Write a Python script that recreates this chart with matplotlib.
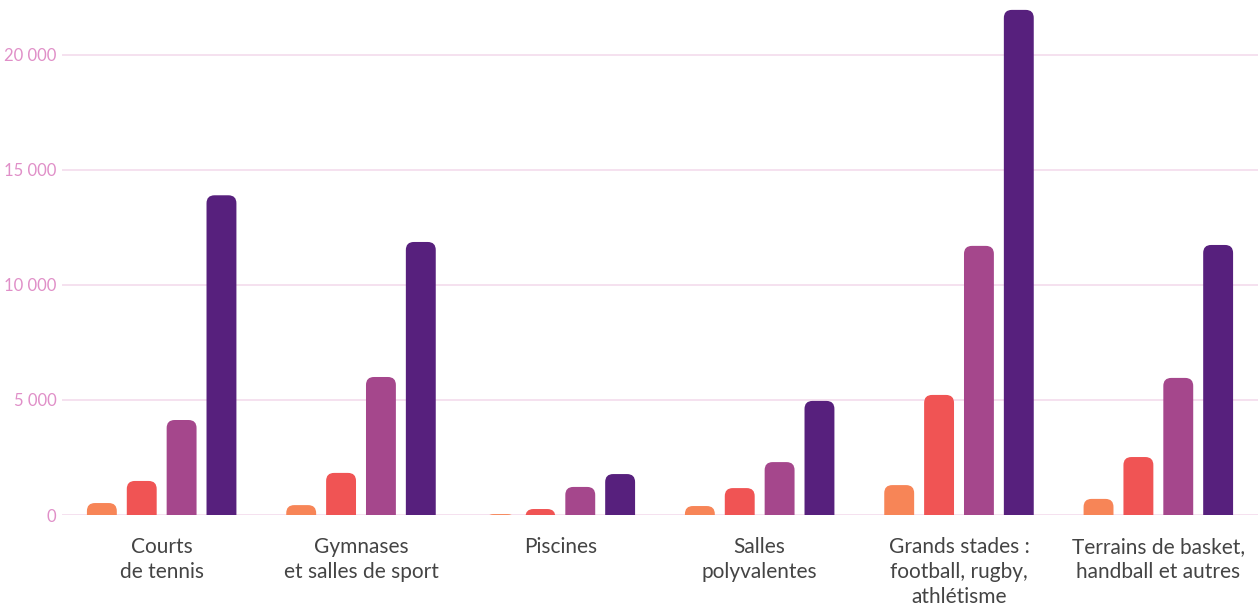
import numpy as np
import matplotlib
matplotlib.use("Agg")
import matplotlib.pyplot as plt
from matplotlib.patches import FancyBboxPatch

# categories et valeurs
categories = ["Courts\nde tennis", "Gymnases\net salles de sport", "Piscines",
              "Salles\npolyvalentes", "Grands stades :\nfootball, rugby,\nathlétisme",
              "Terrains de basket,\nhandball et autres"]
serie1 = [520, 430, 40, 390, 1300, 700]
serie2 = [1480, 1830, 260, 1170, 5220, 2520]
serie3 = [4130, 6000, 1220, 2300, 11700, 5960]
serie4 = [13900, 11870, 1780, 4960, 21960, 11740]
yticks = [0, 5000, 10000, 15000, 20000]
ytick_labels = ["0", "5 000", "10 000", "15 000", "20 000"]

couleurs = ["#F78557", "#F05454", "#A5478C", "#57207D"]
series = [serie1, serie2, serie3, serie4]
decalages = [-0.3, -0.1, 0.1, 0.3]

W, H = 1258, 605
fig = plt.figure(figsize=(W / 100, H / 100), dpi=100)
ax_l, ax_b, ax_w, ax_h = 62, 90, 1196, 515
ax = fig.add_axes([ax_l / W, ax_b / H, ax_w / W, ax_h / H])

ymax = 22390
ax.set_xlim(-0.5, 5.5)
ax.set_ylim(0, ymax)

x = np.arange(len(categories))
largeur = 0.15

# aspect pour avoir des coins ronds
aspect = (ymax / ax_h) / (6 / ax_w)
rayon = 0.04

for j in range(4):
    barres = ax.bar(x + decalages[j], series[j], largeur, color=couleurs[j])
    for b in barres:
        b.set_visible(False)
        bas = -rayon * aspect * 1.3
        p = FancyBboxPatch((b.get_x(), bas), b.get_width(), b.get_height() - bas,
                           boxstyle="round,pad=0,rounding_size=%f" % rayon,
                           mutation_aspect=aspect, facecolor=couleurs[j],
                           edgecolor="none", zorder=3)
        ax.add_patch(p)

ax.set_yticks(yticks)
ax.set_yticklabels(ytick_labels, fontsize=12, color="#E08FC8",
                   family=["Lato", "DejaVu Sans"])
ax.set_xticks(x)
ax.set_xticklabels(categories, fontsize=15, color="#444444",
                   family=["Lato", "DejaVu Sans"], linespacing=1.3)
ax.tick_params(axis="y", length=0, pad=4)
ax.tick_params(axis="x", length=0, pad=16)

ax.grid(axis="y", color="#F3DCEC", linewidth=1.2, zorder=0)
ax.set_axisbelow(True)
for s in ax.spines.values():
    s.set_visible(False)

fig.savefig("out.png", dpi=100)
